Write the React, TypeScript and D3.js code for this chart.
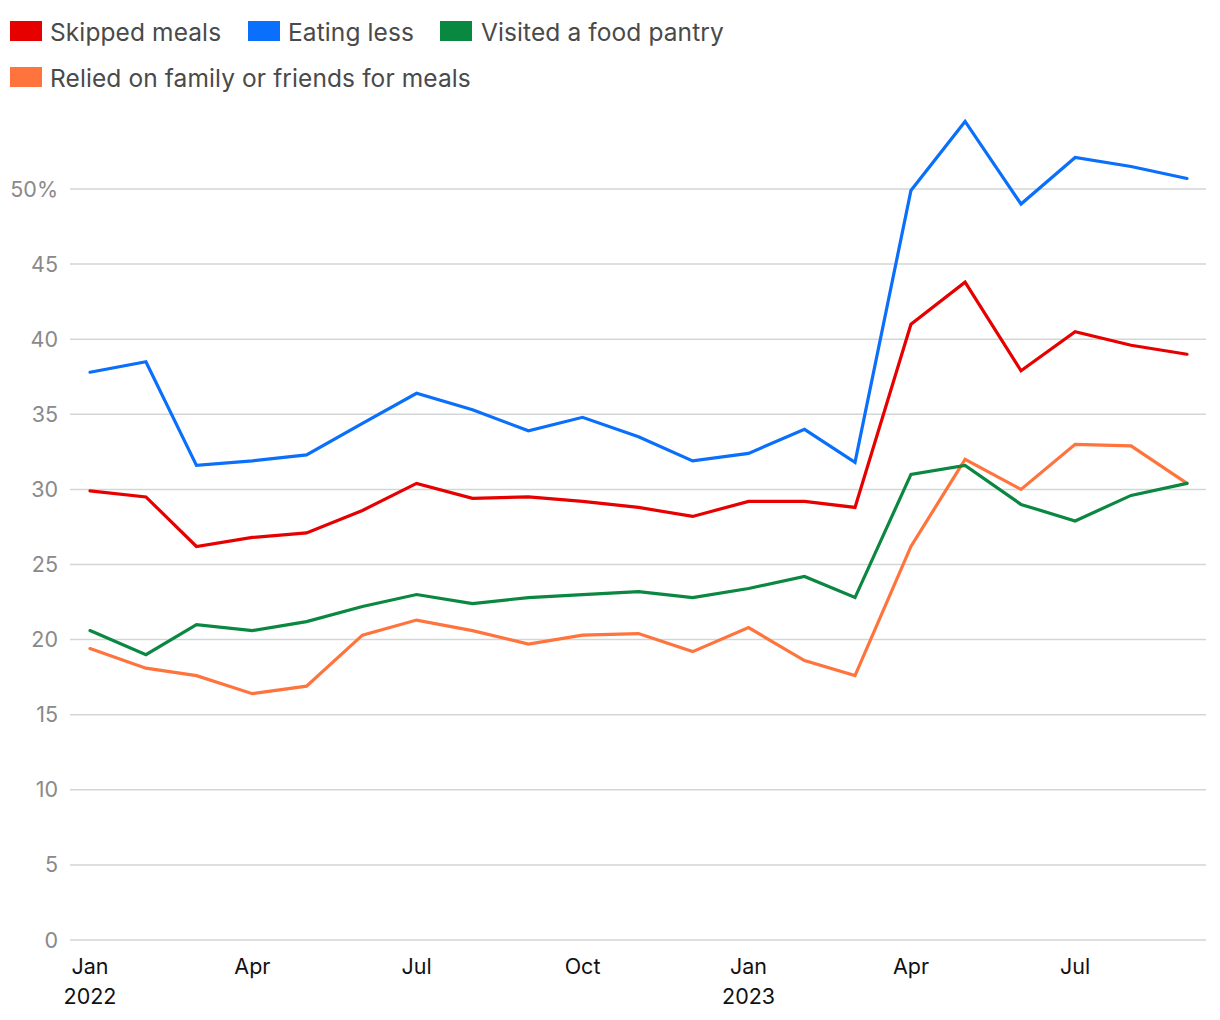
import React from "react";
import * as d3 from "d3";

const months = [
  "2022-01","2022-02","2022-03","2022-04","2022-05","2022-06","2022-07","2022-08","2022-09","2022-10","2022-11","2022-12",
  "2023-01","2023-02","2023-03","2023-04","2023-05","2023-06","2023-07","2023-08","2023-09",
];
const skippedMeals = [29.9,29.5,26.2,26.8,27.1,28.6,30.4,29.4,29.5,29.2,28.8,28.2,29.2,29.2,28.8,41.0,43.8,37.9,40.5,39.6,39.0];
const eatingLess = [37.8,38.5,31.6,31.9,32.3,34.4,36.4,35.3,33.9,34.8,33.5,31.9,32.4,34.0,31.8,49.9,54.5,49.0,52.1,51.5,50.7];
const foodPantry = [20.6,19.0,21.0,20.6,21.2,22.2,23.0,22.4,22.8,23.0,23.2,22.8,23.4,24.2,22.8,31.0,31.6,29.0,27.9,29.6,30.4];
const reliedOnFamily = [19.4,18.1,17.6,16.4,16.9,20.3,21.3,20.6,19.7,20.3,20.4,19.2,20.8,18.6,17.6,26.2,32.0,30.0,33.0,32.9,30.4];

const seriesNames = ["Skipped meals","Eating less","Visited a food pantry","Relied on family or friends for meals"];
const seriesColors = ["#e60000","#0a6ffa","#0a8740","#ff733c"];
const yTicks = [0,5,10,15,20,25,30,35,40,45,50];
const xTickDates = ["2022-01","2022-04","2022-07","2022-10","2023-01","2023-04","2023-07"];
const xTickLabels = ["Jan","Apr","Jul","Oct","Jan","Apr","Jul"];
const xTickYears = ["2022","","","","2023","",""];

const parse = d3.timeParse("%Y-%m");
const FONT = "Inter, 'Noto Sans', sans-serif";

export default function App() {
  const W = 1220, H = 1020;
  const dates = months.map((m) => parse(m) as Date);
  const x = d3.scaleTime().domain([dates[0], dates[dates.length - 1]]).range([90, 1187]);
  const y = d3.scaleLinear().domain([0, 50]).range([940, 189]);
  const allSeries = [skippedMeals, eatingLess, foodPantry, reliedOnFamily];
  const line = d3.line<number>().x((_, i) => x(dates[i])).y((d) => y(d));

  const legendRows = [
    [{ i: 0, sx: 10, tx: 50 }, { i: 1, sx: 248, tx: 288 }, { i: 2, sx: 440, tx: 481 }],
    [{ i: 3, sx: 10, tx: 50 }],
  ];

  return (
    <svg width={W} height={H} style={{ position: "absolute", left: 0, top: 0, background: "#fff" }} fontFamily={FONT}>
      {legendRows.map((row, r) =>
        row.map((it) => (
          <g key={`${r}-${it.i}`}>
            <rect x={it.sx} y={21 + r * 46} width={32} height={20} fill={seriesColors[it.i]} />
            <text x={it.tx} y={32 + r * 46} dy="0.35em" fontSize={24.5} letterSpacing={0.1} fill="#4a4a4a">
              {seriesNames[it.i]}
            </text>
          </g>
        ))
      )}
      {yTicks.map((t) => (
        <g key={t}>
          <line x1={70} x2={1206} y1={y(t)} y2={y(t)} stroke="#d3d6d6" strokeWidth={1.5} />
          <text x={58} y={y(t)} dy="0.35em" textAnchor="end" fontSize={21.5} fill="#8a8a8a">
            {t === 50 ? "50%" : String(t)}
          </text>
        </g>
      ))}
      {xTickDates.map((d, i) => {
        const xx = x(parse(d) as Date);
        return (
          <g key={d}>
            <text x={xx} y={966} dy="0.35em" textAnchor="middle" fontSize={21.5} fill="#111">
              {xTickLabels[i]}
            </text>
            {xTickYears[i] && (
              <text x={xx} y={996} dy="0.35em" textAnchor="middle" fontSize={21.5} fill="#111">
                {xTickYears[i]}
              </text>
            )}
          </g>
        );
      })}
      {[3, 2, 0, 1].map((si) => (
        <path
          key={si}
          d={line(allSeries[si]) || ""}
          fill="none"
          stroke={seriesColors[si]}
          strokeWidth={3.2}
          strokeLinejoin="miter"
          strokeLinecap="round"
        />
      ))}
    </svg>
  );
}
